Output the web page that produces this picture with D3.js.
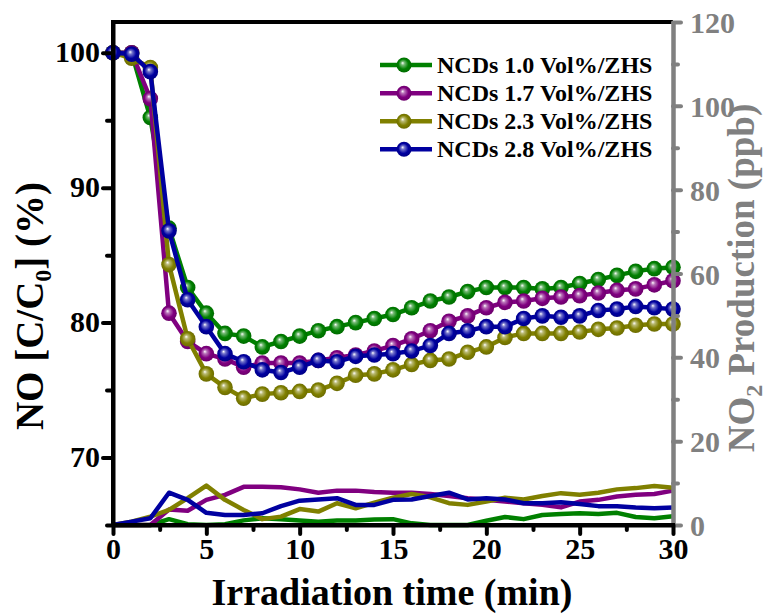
<html>
<head>
    <meta charset="UTF-8">
    <title>NO removal / NO2 production</title>
    <script src="https://d3js.org/d3.v7.min.js"></script>
    <style>
        body { margin: 0; background: #fff; }
        text { font-family: "Liberation Serif", "Times New Roman", serif; font-weight: bold; }
    </style>
</head>
<body>
    <svg width="767" height="614"></svg>
    <script>
        // irradiation time (min)
        var times = [0,1,2,3,4,5,6,7,8,9,10,11,12,13,14,15,16,17,18,19,20,21,22,23,24,25,26,27,28,29,30];

        var seriesNames = ['NCDs 1.0 Vol%/ZHS', 'NCDs 1.7 Vol%/ZHS', 'NCDs 2.3 Vol%/ZHS', 'NCDs 2.8 Vol%/ZHS'];
        var seriesColors = ['#008000', '#800080', '#808000', '#0000a0'];

        // NO C/C0 (%) - left axis
        var noGreen  = [100,100,95.2,87.0,82.6,80.7,79.2,79.0,78.2,78.6,79.0,79.4,79.7,80.0,80.3,80.6,81.1,81.6,81.9,82.3,82.6,82.6,82.6,82.5,82.6,82.9,83.2,83.5,83.8,84.0,84.1];
        var noPurple = [100,100,96.6,80.7,78.6,77.7,77.3,76.7,77.0,77.0,77.0,77.2,77.4,77.6,77.9,78.3,78.8,79.4,80.1,80.5,81.1,81.5,81.6,81.8,81.9,82.0,82.2,82.4,82.5,82.8,83.1];
        var noOlive  = [100,99.6,98.9,84.3,78.8,76.2,75.2,74.4,74.7,74.8,74.9,75.0,75.5,76.1,76.2,76.5,76.9,77.2,77.3,77.8,78.2,78.9,79.2,79.2,79.2,79.3,79.5,79.6,79.8,79.9,79.9];
        var noBlue   = [100,99.9,98.6,86.8,81.7,79.7,77.7,77.1,76.5,76.3,76.7,77.2,77.1,77.5,77.6,77.7,77.9,78.3,79.2,79.4,79.7,79.7,80.3,80.5,80.4,80.5,80.9,81.0,81.2,81.1,81.0];

        // NO2 production (ppb) - right axis
        var no2Green  = [0,0,0,1.4,0.2,0,0.2,1.1,1.6,1.4,1.1,0.8,1.1,1.1,1.3,1.4,0.4,0,0,0,1.0,1.9,1.4,2.4,2.6,2.8,2.6,2.9,1.9,1.6,2.1];
        var no2Purple = [0,0,0,3.7,3.4,6.0,7.2,9.1,9.1,9.0,8.5,7.7,8.2,8.2,7.9,7.7,7.7,7.4,6.9,6.4,6.0,5.6,5.2,4.8,4.2,5.6,6.0,6.8,7.2,7.4,8.2];
        var no2Olive  = [0,0.8,2.0,3.6,6.4,9.4,6.0,3.6,1.4,2.0,3.8,3.2,5.2,4.0,5.3,6.5,7.4,6.6,5.2,4.8,5.6,6.5,6.1,6.9,7.6,7.2,7.7,8.5,8.8,9.3,8.9];
        var no2Blue   = [0,0.8,1.6,7.7,6.0,2.9,2.4,2.4,2.8,4.5,5.8,6.1,6.4,4.8,4.8,6.0,6.1,6.9,7.7,6.1,6.4,6.1,5.2,5.2,5.4,5.0,4.5,4.5,4.2,4.0,4.2];

        var xTicks = [0,5,10,15,20,25,30];
        var xMinor = [2.5,7.5,12.5,17.5,22.5,27.5];
        var yLeftTicks = [70,80,90,100];
        var yLeftMinor = [65,75,85,95];
        var yRightTicks = [0,20,40,60,80,100,120];
        var yRightMinor = [10,30,50,70,90,110];

        var noSeries = [noGreen, noPurple, noOlive, noBlue];
        var no2Series = [no2Green, no2Purple, no2Olive, no2Blue];

        var svg = d3.select('svg');
        var plot = { left: 113, right: 673, top: 22, bottom: 525 };

        var x = d3.scaleLinear().domain([0, 30]).range([plot.left, plot.right]);
        var yL = d3.scaleLinear().domain([65, 102.28]).range([plot.bottom, plot.top]);
        var yR = d3.scaleLinear().domain([0, 120]).range([plot.bottom, plot.top]);

        // shiny ball gradients for the markers
        var defs = svg.append('defs');
        seriesColors.forEach(function(c, i) {
            var g = defs.append('radialGradient').attr('id', 'ball' + i)
                .attr('cx', '0.5').attr('cy', '0.5').attr('r', '0.55')
                .attr('fx', '0.4').attr('fy', '0.36');
            g.append('stop').attr('offset', '0%').attr('stop-color', '#ffffff');
            g.append('stop').attr('offset', '22%').attr('stop-color', d3.interpolateRgb(c, '#ffffff')(0.45));
            g.append('stop').attr('offset', '60%').attr('stop-color', c);
            g.append('stop').attr('offset', '100%').attr('stop-color', d3.color(c).darker(0.6));
        });

        // NO2 lines (no markers)
        var lineR = d3.line().x(function(d, i) { return x(times[i]); }).y(function(d) { return yR(d); });
        no2Series.forEach(function(s, i) {
            svg.append('path').datum(s)
                .attr('fill', 'none')
                .attr('stroke', seriesColors[i])
                .attr('stroke-width', 4.5)
                .attr('stroke-linejoin', 'round')
                .attr('d', lineR);
        });

        // NO curves with ball markers
        var lineL = d3.line().x(function(d, i) { return x(times[i]); }).y(function(d) { return yL(d); });
        noSeries.forEach(function(s, i) {
            var g = svg.append('g');
            g.append('path').datum(s)
                .attr('fill', 'none')
                .attr('stroke', seriesColors[i])
                .attr('stroke-width', 4.5)
                .attr('stroke-linejoin', 'round')
                .attr('d', lineL);
            g.selectAll('circle').data(s).enter().append('circle')
                .attr('cx', function(d, j) { return x(times[j]); })
                .attr('cy', function(d) { return yL(d); })
                .attr('r', 7.8)
                .attr('fill', 'url(#ball' + i + ')');
        });

        // axes
        function styleAxis(g, color, size) {
            g.select('.domain').attr('stroke', color).attr('stroke-width', 4);
            g.selectAll('.tick line').attr('stroke', color).attr('stroke-width', 4).attr('stroke-linecap', 'round');
            g.selectAll('.tick text').attr('fill', color).style('font-size', size + 'px')
                .style('font-family', '"Liberation Serif", "Times New Roman", serif').style('font-weight', 'bold');
        }

        // top border
        svg.append('line').attr('x1', plot.left).attr('x2', plot.right)
            .attr('y1', plot.top).attr('y2', plot.top)
            .attr('stroke', '#000').attr('stroke-width', 4);

        // right axis (grey)
        var gRm = svg.append('g').attr('transform', 'translate(' + plot.right + ',0)')
            .call(d3.axisRight(yR).tickValues(yRightMinor).tickSize(5).tickSizeOuter(0).tickFormat(''));
        styleAxis(gRm, '#808080', 30);
        var gR = svg.append('g').attr('transform', 'translate(' + plot.right + ',0)')
            .call(d3.axisRight(yR).tickValues(yRightTicks).tickSize(8).tickSizeOuter(0).tickPadding(9));
        styleAxis(gR, '#808080', 30);
        gR.selectAll('.tick text').attr('dy', '0.35em');

        // left axis
        var gLm = svg.append('g').attr('transform', 'translate(' + plot.left + ',0)')
            .call(d3.axisLeft(yL).tickValues(yLeftMinor).tickSize(6).tickSizeOuter(0).tickFormat(''));
        styleAxis(gLm, '#000', 30);
        var gL = svg.append('g').attr('transform', 'translate(' + plot.left + ',0)')
            .call(d3.axisLeft(yL).tickValues(yLeftTicks).tickSize(10).tickSizeOuter(0).tickPadding(3));
        styleAxis(gL, '#000', 30);
        gL.select('.domain').attr('d', 'M0,' + (plot.top - 2) + 'V' + (plot.bottom + 2));
        gL.selectAll('.tick text').attr('dy', '0.3em');

        // bottom axis
        var gBm = svg.append('g').attr('transform', 'translate(0,' + plot.bottom + ')')
            .call(d3.axisBottom(x).tickValues(xMinor).tickSize(5).tickSizeOuter(0).tickFormat(''));
        styleAxis(gBm, '#000', 30);
        var gB = svg.append('g').attr('transform', 'translate(0,' + plot.bottom + ')')
            .call(d3.axisBottom(x).tickValues(xTicks).tickSize(9).tickSizeOuter(0).tickPadding(4));
        styleAxis(gB, '#000', 30);
        gB.select('.domain').attr('d', 'M' + (plot.left - 2) + ',0H' + (plot.right + 2));

        // axis titles
        svg.append('text')
            .attr('x', 392).attr('y', 605)
            .attr('text-anchor', 'middle')
            .style('font-size', '38px')
            .text('Irradiation time (min)');

        var tl = svg.append('text')
            .attr('transform', 'translate(43,306) rotate(-90)')
            .attr('text-anchor', 'middle')
            .style('font-size', '39px');
        tl.append('tspan').text('NO [C/C');
        tl.append('tspan').attr('dy', 8).style('font-size', '24px').text('0');
        tl.append('tspan').attr('dy', -8).text('] (%)');

        var tr = svg.append('text')
            .attr('transform', 'translate(754,278) rotate(-90)')
            .attr('text-anchor', 'middle')
            .attr('fill', '#808080')
            .style('font-size', '37px');
        tr.append('tspan').text('NO');
        tr.append('tspan').attr('dy', 8).style('font-size', '24px').text('2');
        tr.append('tspan').attr('dy', -8).text(' Production (ppb)');

        // legend
        var legend = svg.append('g');
        var rowY = [65, 93.3, 121.3, 149.3];
        seriesNames.forEach(function(name, i) {
            var r = legend.append('g').attr('transform', 'translate(0,' + rowY[i] + ')');
            r.append('line').attr('x1', 380).attr('x2', 432).attr('y1', 0).attr('y2', 0)
                .attr('stroke', seriesColors[i]).attr('stroke-width', 4.5);
            r.append('circle').attr('cx', 404).attr('cy', 0).attr('r', 7.5)
                .attr('fill', 'url(#ball' + i + ')');
            r.append('text').attr('x', 437).attr('y', 8)
                .style('font-size', '24px')
                .text(name);
        });
    </script>
</body>
</html>
